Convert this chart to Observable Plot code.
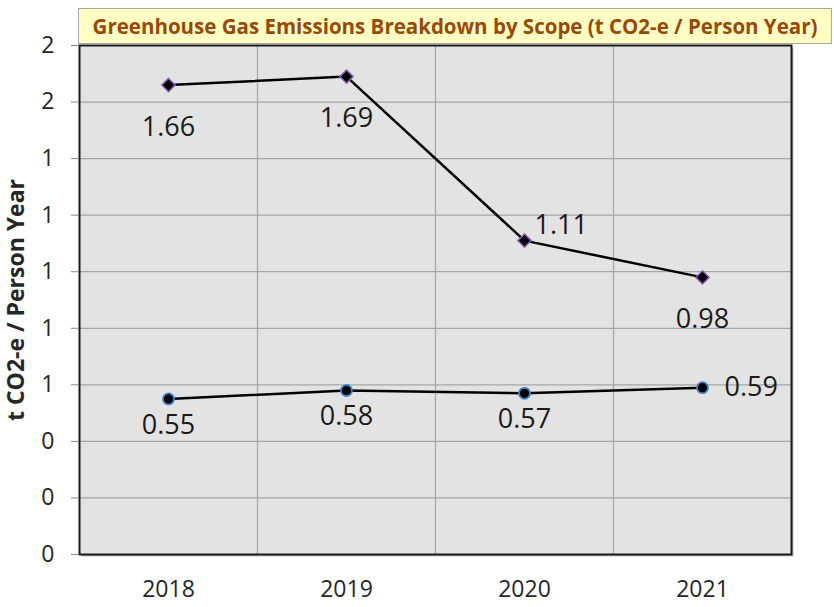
<!DOCTYPE html>
<html><head><meta charset="utf-8">
<script src="https://cdn.jsdelivr.net/npm/d3@7"></script>
<script src="https://cdn.jsdelivr.net/npm/@observablehq/plot@0.6"></script>
<style>
body{margin:0;background:#fff;font-family:"Open Sans",sans-serif;}
#wrap{position:relative;width:834px;height:607px;}
#title{position:absolute;left:78px;top:8px;width:754px;height:36px;background:#ffffc4;border:1px solid #a8a8a8;box-sizing:border-box;color:#984807;font-weight:700;font-size:20.5px;display:flex;align-items:center;justify-content:center;white-space:nowrap;z-index:2;}
#wrap svg{position:absolute;left:0;top:0;}
</style></head><body>
<div id="wrap"><div id="title">Greenhouse Gas Emissions Breakdown by Scope (t CO2-e / Person Year)</div></div>
<script>
const years = [2018, 2019, 2020, 2021];
const scopeHigh = [1.66, 1.69, 1.11, 0.98];
const scopeLow = [0.55, 0.58, 0.57, 0.59];
const yTicks = [0, 0.2, 0.4, 0.6, 0.8, 1.0, 1.2, 1.4, 1.6, 1.8];
const yLabel = "t CO2-e / Person Year";

const rows = years.map((year, i) => ({year, high: scopeHigh[i], low: scopeLow[i], i}));
const boundaries = d3.pairs(years, (a, b) => (a + b) / 2);
const fmt = d3.format(".2f");

function labels(key, idx, opts) {
  return Plot.text(rows.filter(r => idx.includes(r.i)), {
    x: "year", y: key, text: d => fmt(d[key]),
    fontSize: 27, fill: "#1a1a1a", ...opts
  });
}

const chart = Plot.plot({
  width: 834, height: 607,
  marginLeft: 79, marginRight: 43, marginTop: 45, marginBottom: 53,
  style: {fontFamily: "'Open Sans', sans-serif", fontSize: "22px", color: "#262626", background: "transparent"},
  x: {domain: [years[0] - 0.5, years[years.length - 1] + 0.5]},
  y: {domain: [0, 1.8]},
  marks: [
    Plot.frame({fill: "#bdbdbd", stroke: null, dx: 2, dy: 2}),
    Plot.frame({fill: "#e3e3e3", stroke: null}),
    Plot.gridY({ticks: yTicks, stroke: "#a6a6a6", strokeOpacity: 1, strokeWidth: 1.2}),
    Plot.gridX({ticks: boundaries, stroke: "#a6a6a6", strokeOpacity: 1, strokeWidth: 1.2}),
    Plot.line(rows, {x: "year", y: "high", stroke: "#000", strokeWidth: 2.5}),
    Plot.line(rows, {x: "year", y: "low", stroke: "#000", strokeWidth: 2.5}),
    Plot.dot(rows, {x: "year", y: "high", symbol: "diamond2", r: 6, fill: "#000", stroke: "#8a5fb5", strokeWidth: 1.5}),
    Plot.dot(rows, {x: "year", y: "low", symbol: "circle", r: 5.5, fill: "#000", stroke: "#3f80c9", strokeWidth: 1.8}),
    labels("high", [0, 1, 3], {dy: 42}),
    labels("high", [2], {dx: 10, dy: -15, textAnchor: "start"}),
    labels("low", [0, 1, 2], {dy: 26}),
    labels("low", [3], {dx: 22, dy: 0, textAnchor: "start"}),
    Plot.frame({stroke: "#1a1a1a", strokeWidth: 2}),
    Plot.axisY({ticks: yTicks, tickFormat: d3.format(".0f"), tickSize: 8, tickPadding: 17, stroke: "#888", fontSize: 23,
      label: yLabel, labelAnchor: "center", labelArrow: "none", labelOffset: 72}),
    Plot.axisX({ticks: years, tickFormat: d => String(d), tickSize: 0, tickPadding: 26, label: null, fontSize: 23})
  ]
});
document.getElementById("wrap").appendChild(chart);
d3.select(chart).selectAll('[aria-label="y-axis label"] text').attr("font-weight", "bold");
</script>
</body></html>
